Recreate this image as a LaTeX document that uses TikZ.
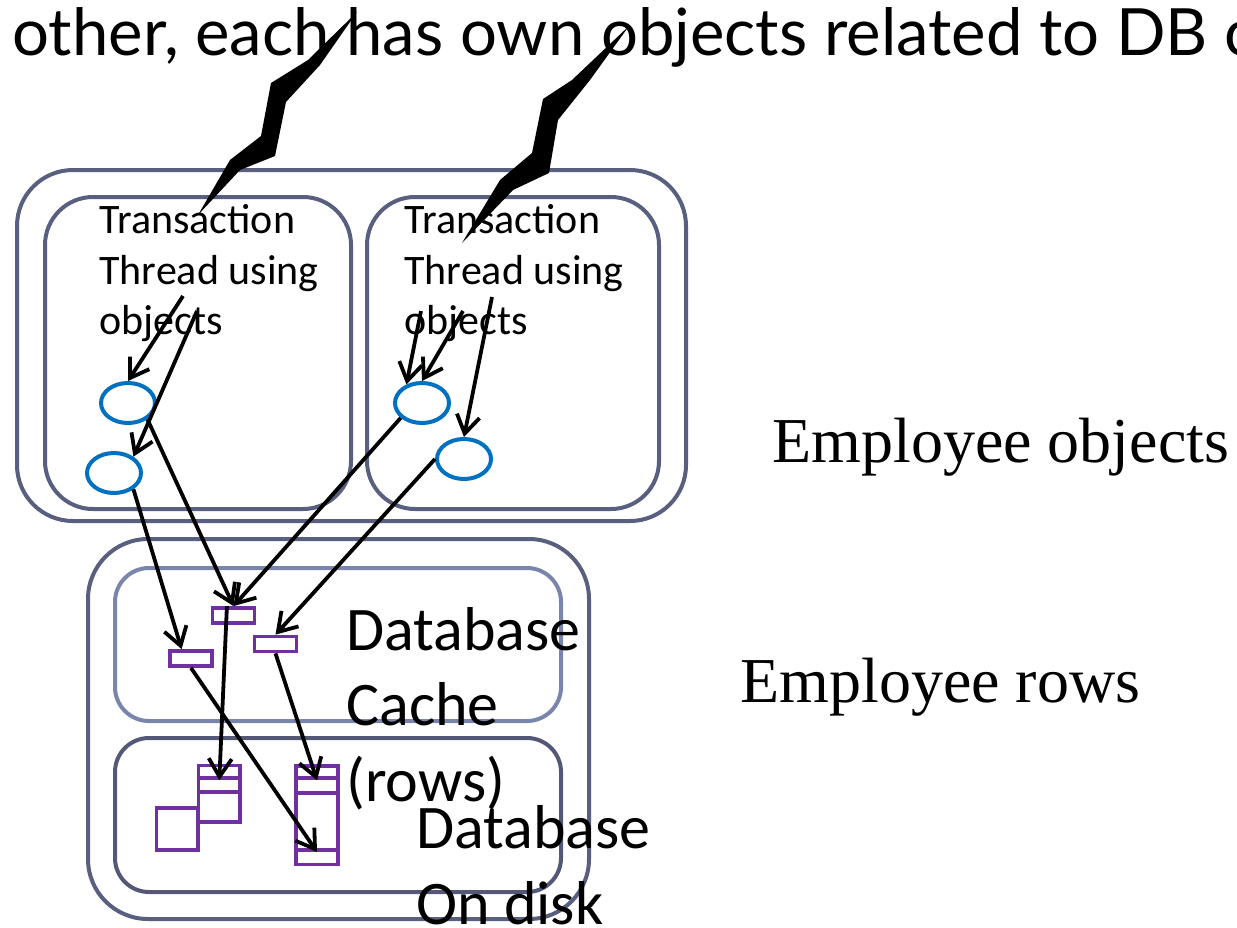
\documentclass[tikz,border=0pt]{standalone}
\usepackage{fontspec}
\setmainfont{Carlito}
\newfontfamily\headfont{Lato}
\newfontfamily\labelfont{Liberation Serif}
\usetikzlibrary{shapes.geometric,arrows.meta}

\definecolor{framegray}{RGB}{89,95,126}
\definecolor{cachegray}{RGB}{122,133,172}
\definecolor{diskgray}{RGB}{82,88,118}
\definecolor{objblue}{RGB}{0,112,192}
\definecolor{rowpurple}{RGB}{112,48,160}

\begin{document}
\begin{tikzpicture}[x=0.5pt,y=-0.5pt,
  frame/.style={draw=framegray,line width=2pt},
  obj/.style={ellipse,draw=objblue,line width=2pt,minimum width=27pt,minimum height=20pt,inner sep=0pt},
  row/.style={rectangle,draw=rowpurple,line width=1.9pt,minimum width=21pt,minimum height=7.5pt,inner sep=0pt},
  cell/.style={rectangle,draw=rowpurple,line width=1.9pt,minimum width=20.75pt,inner sep=0pt},
  link/.style={draw=black,line width=1.9pt,-{Straight Barb[length=9pt,width=11.5pt]}},
  thread/.style={anchor=base west,inner sep=0pt,font=\fontsize{21}{25}\selectfont},
  store/.style={anchor=base west,inner sep=0pt,font=\fontsize{31}{37}\selectfont},
  side/.style={anchor=base west,inner sep=0pt,font=\labelfont\fontsize{32}{38}\selectfont},
  bolt/.style={fill=black,draw=none}]
\useasboundingbox (0,0) rectangle (1237,927);
\fill[white] (0,0) rectangle (1237,927);

% heading line
\node[anchor=base west,inner sep=0pt,font=\headfont\fontsize{32.6}{39}\selectfont] (head) at (12,55)
  {other, each has own objects related to DB c};

% application tier: two transaction threads
\draw[frame,rounded corners=28pt] (17,170) rectangle (686,521);
\draw[frame,rounded corners=24pt] (45,197) rectangle (351,509);
\draw[frame,rounded corners=24pt] (367,197) rectangle (659,509);

\node[thread] (la) at (99,233) {Transaction};
\node[thread] (lb) at (99,284) {Thread using};
\node[thread] (lc) at (99,334) {objects};
\node[thread] (ra) at (404,233) {Transaction};
\node[thread] (rb) at (404,284) {Thread using};
\node[thread] (rc) at (404,334) {objects};

% database tier: cache above disk
\draw[frame,rounded corners=30pt] (88,539) rectangle (589,919);
\draw[draw=cachegray,line width=2pt,rounded corners=17pt] (115,568) rectangle (561,721);
\draw[draw=diskgray,line width=2pt,rounded corners=17pt] (115,738) rectangle (561,892);

% lightning bolts striking each thread
\fill[bolt] (357,12) -- (320,65) -- (286,102) -- (275,156) -- (240,170) -- (198,215)
  -- (230,160) -- (261,136) -- (271,83) -- (308,60) -- cycle;
\fill[bolt] (629,26) -- (590,80) -- (558,120) -- (549,173) -- (513,190) -- (462,243)
  -- (500,180) -- (532,153) -- (543,99) -- (572,80) -- cycle;

% employee objects
\node[obj] (e1) at (128,403) {};
\node[obj] (e2) at (114,473) {};
\node[obj] (e3) at (422,403) {};
\node[obj] (e4) at (464,459) {};

% cached rows
\node[row] (c1) at (233.5,615.5) {};
\node[row] (c2) at (191,658.5) {};
\node[row] (c3) at (275.5,644) {};

% rows on disk
\node[cell,minimum height=6.4pt] (dl1) at (219.3,771.9) {};
\node[cell,minimum height=7pt] (dl2) at (219.3,785.3) {};
\node[cell,minimum height=14.85pt] (dl3) at (219.3,807.2) {};
\node[cell,minimum height=21.15pt] (sq) at (177.3,829.2) {};
\node[cell,minimum height=6.4pt] (dr1) at (317,772) {};
\node[cell,minimum height=7.5pt] (dr2) at (317,785.8) {};
\node[cell,minimum height=28.35pt] (dr3) at (317,821.7) {};
\node[cell,minimum height=7.25pt] (dr4) at (317,857.3) {};

% tier labels
\node[store] (dc1) at (346,650) {Database};
\node[store] (dc2) at (346,725) {Cache};
\node[store] (dc3) at (346,801) {(rows)};
\node[store] (dd1) at (416,848) {Database};
\node[store] (dd2) at (416,924) {On disk};
\node[side] (eo) at (772,462) {Employee objects};
\node[side] (er) at (740,702) {Employee rows};

% references from threads to objects
\coordinate (lt1) at (183,296);
\coordinate (lt2) at (197,311);
\coordinate (rt1) at (421,311);
\coordinate (rt2) at (463,311);
\coordinate (rt3) at (492,297);
\draw[link] (lt1) -- (e1.north);
\draw[link] (lt2) -- (e2.40);
\draw[link] (rt1) -- (e3.130);
\draw[link] (rt2) -- (e3.north);
\draw[link] (rt3) -- (e4.north);

% objects mapped to cached rows
\draw[link] (e1.-40) -- (c1.north);
\draw[link] (e2.-40) -- (c2.135);
\draw[link] (e3.215) -- (c1.north);
\draw[link] (e4.west) -- (c3.north);

% cached rows backed by disk rows
\draw[link] (c1.125) -- (dl1.south);
\draw[link] (c2.south) -- (dr3.south);
\draw[link] (c3.south) -- (dr1.south);
\end{tikzpicture}
\end{document}
